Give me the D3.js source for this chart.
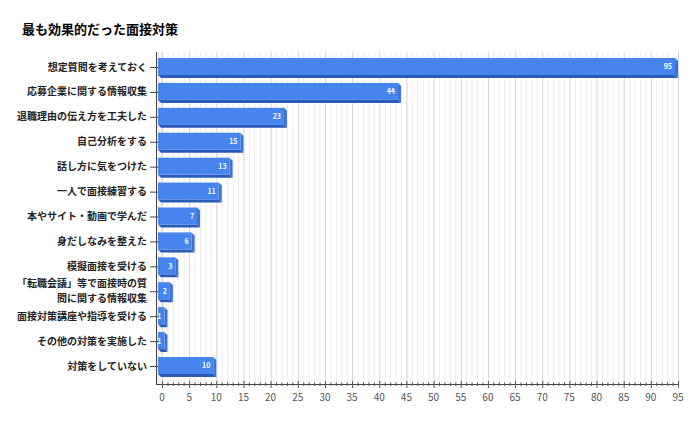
<!DOCTYPE html>
<html>
<head>
<meta charset="utf-8">
<script src="https://cdn.jsdelivr.net/npm/d3@7"></script>
<style>
  body { margin: 0; background: #fff; }
  text { font-family: "Noto Sans CJK JP", "Noto Sans", sans-serif; }
</style>
</head>
<body>
<div id="chart"></div>
<script>
// Data for the chart
const categories = [
    "想定質問を考えておく",
    "応募企業に関する情報収集",
    "退職理由の伝え方を工夫した",
    "自己分析をする",
    "話し方に気をつけた",
    "一人で面接練習する",
    "本やサイト・動画で学んだ",
    "身だしなみを整えた",
    "模擬面接を受ける",
    "「転職会議」等で面接時の質\n問に関する情報収集",
    "面接対策講座や指導を受ける",
    "その他の対策を実施した",
    "対策をしていない"
];
const values = [95, 44, 23, 15, 13, 11, 7, 6, 3, 2, 1, 1, 10];
const tickValues = d3.range(0, 100, 5);

const svg = d3.select("#chart")
    .append("svg")
    .attr("width", 700)
    .attr("height", 430);

// Title
svg.append("text")
    .attr("x", 22)
    .attr("y", 34)
    .attr("font-size", 13)
    .attr("font-weight", "bold")
    .attr("fill", "#000")
    .text("最も効果的だった面接対策");

// Scales
const x = d3.scaleLinear().domain([0, 95]).range([162, 678]);
const y = d3.scalePoint().domain(categories).range([67, 366]);

const axisX = 156, plotTop = 52, plotBottom = 384;
const depth = 3;

// Plot wall + gridlines
svg.append("rect")
    .attr("x", axisX).attr("y", plotTop)
    .attr("width", x(0) - axisX).attr("height", plotBottom - plotTop)
    .attr("fill", "#f2f2f2");

svg.append("g")
    .selectAll("line")
    .data(d3.range(0, 96))
    .join("line")
    .attr("x1", d => x(d) + 0.5).attr("x2", d => x(d) + 0.5)
    .attr("y1", plotTop).attr("y2", plotBottom)
    .attr("stroke", d => d % 5 === 0 ? "#d4d4d4" : "#ededed")
    .attr("stroke-width", 1);

// Bars (3D style)
const bars = svg.append("g")
    .selectAll("g")
    .data(values)
    .join("g");

const x0 = x(0) - 4;
const fx1 = d => x(d) - 3;
const y0 = (d, i) => y(categories[i]) - 9;
const bh = 17;

bars.append("path")
    .attr("fill", "#2b5bb8")
    .attr("d", (d, i) => {
        const a = y0(d, i) + bh;
        return `M${x0},${a}L${fx1(d)},${a}L${fx1(d) + depth},${a + depth}L${x0 + depth},${a + depth}Z`;
    });
bars.append("path")
    .attr("fill", "#3d72d6")
    .attr("d", (d, i) => {
        const a = y0(d, i);
        return `M${fx1(d)},${a}L${fx1(d) + depth},${a + depth}L${fx1(d) + depth},${a + bh + depth}L${fx1(d)},${a + bh}Z`;
    });
bars.append("rect")
    .attr("x", x0)
    .attr("y", y0)
    .attr("width", d => fx1(d) - x0)
    .attr("height", bh)
    .attr("fill", "#4684ee");

// Value labels
bars.append("text")
    .attr("x", d => x(d) - 6)
    .attr("y", (d, i) => y(categories[i]))
    .attr("dy", "0.35em")
    .attr("text-anchor", "end")
    .attr("font-family", "Arial, 'Liberation Sans', sans-serif")
    .attr("font-size", 7)
    .attr("font-weight", "bold")
    .attr("fill", "#fff")
    .text(d => d);

// Left axis
svg.append("line")
    .attr("x1", axisX + 0.5).attr("x2", axisX + 0.5)
    .attr("y1", plotTop).attr("y2", plotBottom)
    .attr("stroke", "#444");

svg.append("g")
    .selectAll("line")
    .data(categories)
    .join("line")
    .attr("x1", 150).attr("x2", 158)
    .attr("y1", d => y(d) + 0.5).attr("y2", d => y(d) + 0.5)
    .attr("stroke", "#444");

// Category labels (split on newline into separate lines)
const labelLines = [];
categories.forEach(c => {
    const parts = c.split("\n");
    parts.forEach((s, k) => labelLines.push({ cat: c, text: s, off: (k - (parts.length - 1) / 2) * 14.6 }));
});

svg.append("g")
    .selectAll("text")
    .data(labelLines)
    .join("text")
    .attr("x", 147)
    .attr("y", d => y(d.cat) + d.off)
    .attr("dy", "0.35em")
    .attr("text-anchor", "end")
    .attr("font-size", 10)
    .attr("font-weight", "bold")
    .attr("fill", "#222")
    .text(d => d.text);

// Bottom axis
svg.append("line")
    .attr("x1", axisX).attr("x2", x(95) + 1)
    .attr("y1", plotBottom + 0.5).attr("y2", plotBottom + 0.5)
    .attr("stroke", "#444");

svg.append("g")
    .selectAll("line")
    .data(d3.range(0, 96))
    .join("line")
    .attr("x1", d => x(d) + 0.5).attr("x2", d => x(d) + 0.5)
    .attr("y1", d => d % 5 === 0 ? plotBottom - 3 : plotBottom - 1.5)
    .attr("y2", d => d % 5 === 0 ? plotBottom + 4 : plotBottom + 2)
    .attr("stroke", "#555");

svg.append("g")
    .selectAll("text")
    .data(tickValues)
    .join("text")
    .attr("x", d => x(d))
    .attr("y", 397)
    .attr("dy", "0.35em")
    .attr("text-anchor", "middle")
    .attr("font-family", "Arial, 'Liberation Sans', sans-serif")
    .attr("font-size", 10)
    .attr("fill", "#555")
    .text(d => d);
</script>
</body>
</html>
